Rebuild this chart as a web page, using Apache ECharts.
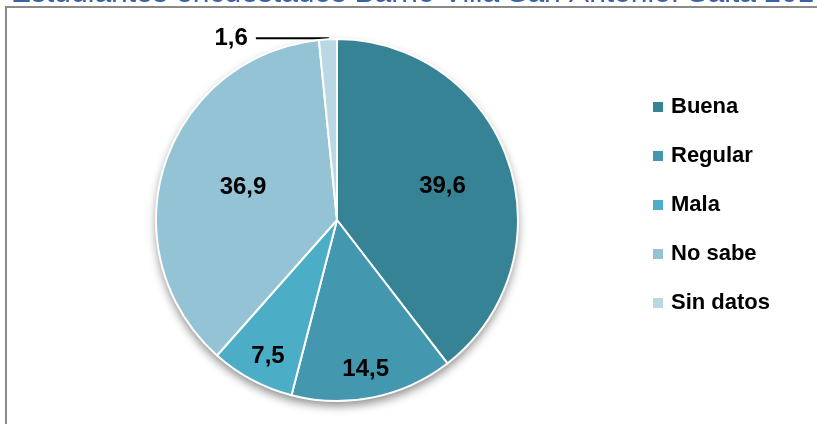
<!DOCTYPE html>
<html>
<head>
<meta charset="utf-8">
<script src="https://cdn.jsdelivr.net/npm/echarts@6/dist/echarts.min.js"></script>
<style>
  html, body { margin: 0; padding: 0; background: #ffffff; }
  #chart { width: 817px; height: 424px; }
</style>
</head>
<body>
<div id="chart"></div>
<script>
// Opinión de los estudiantes encuestados (porcentajes)
const categories = ['Buena', 'Regular', 'Mala', 'No sabe', 'Sin datos'];
const values = [39.6, 14.5, 7.5, 36.9, 1.6];
const titleText = 'Estudiantes encuestados Barrio Villa San Antonio. Salta 2015';

const colors = ['#378396', '#4398B0', '#4BADC6', '#93C3D4', '#BAD8E4'];
// Nudges for the inside labels, relative to the default inside spot
const labelNudge = [[17, -4], [10, 58], [-25, 54], [-5, -4], [0, 0]];

const fmt = v => String(v).replace('.', ',');
const FONT = '"Liberation Sans", Arial, sans-serif';

const center = [337, 220];
const radius = 181;

const pieData = categories.map((name, i) => {
  const item = {
    name: name,
    value: values[i],
    itemStyle: { color: colors[i] },
    label: { offset: labelNudge[i] }
  };
  if (i === categories.length - 1) {
    item.label = {
      position: 'outside',
      distanceToLabelLine: 8
    };
    item.labelLine = {
      show: true,
      length: 1,
      length2: 72,
      lineStyle: { color: '#000000', width: 2 }
    };
  }
  return item;
});

const chart = echarts.init(document.getElementById('chart'), null, { renderer: 'canvas' });

chart.setOption({
  animation: false,
  backgroundColor: '#ffffff',
  color: colors,
  graphic: [
    {
      type: 'rect',
      shape: { x: 6, y: 7, width: 900, height: 500 },
      style: { fill: 'none', stroke: '#8a8a8a', lineWidth: 2 },
      z: 2
    },
    {
      type: 'text',
      x: 11,
      y: 9,
      style: {
        text: titleText,
        font: '30px ' + FONT,
        fill: '#3A62A8',
        verticalAlign: 'bottom'
      },
      z: 1
    }
  ],
  legend: {
    orient: 'vertical',
    left: 646,
    top: 91,
    icon: 'rect',
    itemWidth: 12,
    itemHeight: 12,
    itemGap: 27,
    textStyle: {
      fontFamily: FONT,
      fontSize: 22,
      fontWeight: 'bold',
      color: '#000000',
      padding: [0, 0, 0, 2]
    },
    data: categories
  },
  series: [
    {
      // soft drop shadow behind the pie
      type: 'pie',
      silent: true,
      center: center,
      radius: radius,
      label: { show: false },
      labelLine: { show: false },
      legendHoverLink: false,
      z: 1,
      data: [{
        name: '',
        value: 1,
        itemStyle: {
          color: '#ffffff',
          shadowColor: 'rgba(0,0,0,0.45)',
          shadowBlur: 10,
          shadowOffsetY: 5
        }
      }]
    },
    {
      type: 'pie',
      center: center,
      radius: radius,
      startAngle: 90,
      clockwise: true,
      avoidLabelOverlap: false,
      z: 2,
      itemStyle: { borderColor: '#ffffff', borderWidth: 2 },
      label: {
        show: true,
        position: 'inside',
        formatter: p => fmt(p.value),
        fontFamily: FONT,
        fontSize: 24,
        fontWeight: 'bold',
        color: '#000000'
      },
      emphasis: { disabled: true },
      data: pieData
    }
  ]
});
</script>
</body>
</html>
